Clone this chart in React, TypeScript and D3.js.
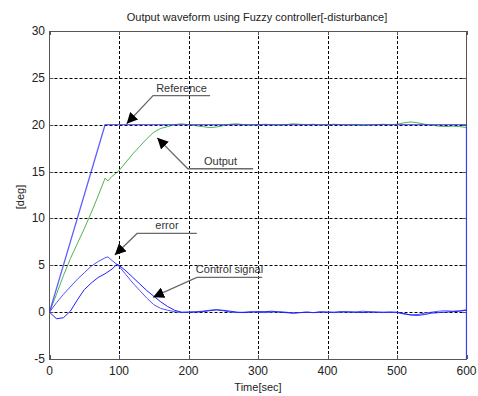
import { useEffect, useRef } from "react"
import * as d3 from "d3"

// time axis samples (sec)
const timeRamp = [0, 10, 20, 30, 40, 50, 60, 70, 80, 84, 90, 97, 100, 110, 120, 130, 140, 150, 160, 170, 180, 190]
const timeTail = [200, 210, 220, 230, 240, 250, 260, 270, 280, 290, 300, 310, 320, 330, 340, 350, 360, 370, 380, 390, 400, 410, 420, 430, 440, 450, 460, 470, 480, 490, 500, 510, 520, 530, 540, 550, 560, 570, 580, 590, 600]

const outputRamp = [0, 1.9, 3.9, 5.7, 7.3, 8.9, 10.6, 12.4, 14.3, 14.0, 14.5, 14.9, 15.1, 16.0, 16.9, 17.7, 18.5, 19.2, 19.6, 19.8, 20.0, 20.1]
const outputTail = [20.0, 19.9, 19.8, 19.7, 19.75, 19.9, 20.05, 20.1, 20.0, 19.95, 20.0, 20.05, 20.0, 19.95, 20.0, 20.1, 20.05, 20.0, 20.05, 19.95, 20.0, 20.05, 20.0, 19.95, 20.0, 19.9, 19.95, 20.0, 20.05, 20.0, 20.05, 20.2, 20.3, 20.2, 20.05, 19.95, 19.85, 19.8, 19.85, 19.8, 19.7]

const errorRamp = [0, 1.0, 1.9, 2.7, 3.5, 4.2, 4.9, 5.4, 5.8, 5.9, 5.5, 5.1, 4.9, 4.0, 3.1, 2.3, 1.5, 0.8, 0.4, 0.2, 0.05, -0.05]
const errorTail = [0.0, 0.05, 0.1, 0.2, 0.25, 0.15, 0.0, -0.05, 0.0, 0.05, 0.0, -0.05, 0.0, 0.05, 0.0, -0.1, -0.05, 0.0, -0.05, 0.05, 0.0, -0.05, 0.0, 0.05, 0.0, 0.1, 0.05, 0.0, -0.05, 0.0, -0.05, -0.2, -0.3, -0.25, -0.1, 0.0, 0.1, 0.15, 0.1, 0.15, 0.25]

const controlRamp = [0, -0.7, -0.6, 0.1, 1.3, 2.4, 3.1, 3.7, 4.1, 4.3, 4.6, 5.1, 5.0, 4.4, 3.7, 3.0, 2.3, 1.7, 1.1, 0.6, 0.2, 0.0]
const controlTail = [0.0, 0.0, 0.05, 0.15, 0.25, 0.2, 0.1, 0.0, -0.05, 0.0, 0.05, 0.05, 0.1, 0.0, -0.05, -0.1, -0.05, 0.0, -0.05, 0.0, 0.0, 0.0, 0.05, 0.0, 0.0, -0.05, 0.0, 0.0, 0.0, 0.0, 0.0, -0.15, -0.3, -0.35, -0.25, -0.1, -0.05, 0.0, 0.05, 0.1, 0.2]

const referenceTime = [0, 80, 600, 600]
const referenceValue = [0, 20, 20, -5]

const xTicks = [0, 100, 200, 300, 400, 500, 600]
const yTicks = [-5, 0, 5, 10, 15, 20, 25, 30]

// annotations: [label, tipX, tipY, elbowX, elbowY, endX]
const notes: [string, number, number, number, number, number][] = [
  ["Reference", 111, 20.1, 149, 23.1, 231],
  ["Output", 155, 18.6, 199, 15.3, 293],
  ["error", 94, 6.1, 126, 8.4, 212],
  ["Control signal", 149, 1.6, 212, 3.7, 306],
]

export default function App() {
  const svgRef = useRef<SVGSVGElement | null>(null)

  useEffect(() => {
    if (!svgRef.current) return
    const svg = d3.select(svgRef.current)
    svg.selectAll("*").remove()

    const left = 49.5, right = 466.5, top = 31, bottom = 359
    const width = right - left
    const height = bottom - top
    const font = "'Liberation Sans', Arial, sans-serif"

    const x = d3.scaleLinear().domain([0, 600]).range([left, right])
    const y = d3.scaleLinear().domain([-5, 30]).range([bottom, top])

    svg.append("rect").attr("width", 478).attr("height", 396).attr("fill", "#fff")

    const defs = svg.append("defs")
    defs
      .append("clipPath")
      .attr("id", "plotclip")
      .append("rect")
      .attr("x", left)
      .attr("y", top)
      .attr("width", width + 1)
      .attr("height", height)

    defs
      .append("marker")
      .attr("id", "arrowhead")
      .attr("viewBox", "0 0 10 10")
      .attr("refX", 10)
      .attr("refY", 5)
      .attr("markerWidth", 11)
      .attr("markerHeight", 11)
      .attr("markerUnits", "userSpaceOnUse")
      .attr("orient", "auto")
      .append("path")
      .attr("d", "M0,0 L10,5 L0,10 Z")
      .attr("fill", "#000")

    // grid
    const grid = svg.append("g").attr("stroke", "#000").attr("stroke-width", 1).attr("stroke-dasharray", "3,2")
    xTicks.slice(1, -1).forEach((t) => {
      grid.append("line").attr("x1", Math.round(x(t)) + 0.5).attr("x2", Math.round(x(t)) + 0.5).attr("y1", top).attr("y2", bottom)
    })
    yTicks.slice(1, -1).forEach((t) => {
      grid.append("line").attr("x1", left).attr("x2", right).attr("y1", Math.round(y(t)) + 0.5).attr("y2", Math.round(y(t)) + 0.5)
    })

    // frame
    svg
      .append("rect")
      .attr("x", left)
      .attr("y", top + 0.5)
      .attr("width", width)
      .attr("height", height)
      .attr("fill", "none")
      .attr("stroke", "#555")

    // ticks inside
    const ticks = svg.append("g").attr("stroke", "#555")
    xTicks.forEach((t) => {
      const px = Math.round(x(t)) + 0.5
      ticks.append("line").attr("x1", px).attr("x2", px).attr("y1", bottom).attr("y2", bottom - 4)
      ticks.append("line").attr("x1", px).attr("x2", px).attr("y1", top).attr("y2", top + 4)
    })
    yTicks.forEach((t) => {
      const py = Math.round(y(t)) + 0.5
      ticks.append("line").attr("x1", left).attr("x2", left + 4).attr("y1", py).attr("y2", py)
      ticks.append("line").attr("x1", right).attr("x2", right - 4).attr("y1", py).attr("y2", py)
    })

    // tick labels
    svg
      .append("g")
      .selectAll("text")
      .data(xTicks)
      .join("text")
      .attr("x", (d) => x(d))
      .attr("y", 375)
      .attr("text-anchor", "middle")
      .attr("font-family", font)
      .attr("font-size", 12)
      .attr("fill", "#222")
      .text((d) => d)

    svg
      .append("g")
      .selectAll("text")
      .data(yTicks)
      .join("text")
      .attr("x", 45)
      .attr("y", (d) => y(d) + 4)
      .attr("text-anchor", "end")
      .attr("font-family", font)
      .attr("font-size", 12)
      .attr("fill", "#222")
      .text((d) => d)

    // title and axis labels
    svg
      .append("text")
      .attr("x", 257)
      .attr("y", 21)
      .attr("text-anchor", "middle")
      .attr("font-family", font)
      .attr("font-size", 11)
      .attr("fill", "#222")
      .text("Output waveform using Fuzzy controller[-disturbance]")

    svg
      .append("text")
      .attr("x", 258)
      .attr("y", 391)
      .attr("text-anchor", "middle")
      .attr("font-family", font)
      .attr("font-size", 11)
      .attr("fill", "#222")
      .text("Time[sec]")

    svg
      .append("text")
      .attr("transform", `translate(24,197) rotate(-90)`)
      .attr("text-anchor", "middle")
      .attr("font-family", font)
      .attr("font-size", 11)
      .attr("fill", "#222")
      .text("[deg]")

    // series
    const plot = svg.append("g").attr("clip-path", "url(#plotclip)").attr("fill", "none")
    const line = d3
      .line<[number, number]>()
      .x((d) => x(d[0]))
      .y((d) => y(d[1]))

    const times = timeRamp.concat(timeTail)
    const zip = (vals: number[]) => times.map((t, i) => [t, vals[i]] as [number, number])

    plot
      .append("path")
      .attr("d", line(zip(outputRamp.concat(outputTail))))
      .attr("stroke", "#22a022")
      .attr("stroke-width", 1)
      .attr("stroke-opacity", 0.8)

    plot
      .append("path")
      .attr("d", line(referenceTime.map((t, i) => [t, referenceValue[i]] as [number, number])))
      .attr("stroke", "#3838ff")
      .attr("stroke-width", 1.3)
      .attr("stroke-opacity", 0.8)

    plot
      .append("path")
      .attr("d", line(zip(errorRamp.concat(errorTail))))
      .attr("stroke", "#5050ff")
      .attr("stroke-width", 1)

    plot
      .append("path")
      .attr("d", line(zip(controlRamp.concat(controlTail))))
      .attr("stroke", "#2020ff")
      .attr("stroke-width", 1)

    // annotations
    const ann = svg.append("g")
    notes.forEach(([label, tx, ty, ex, ey, endX]) => {
      ann
        .append("path")
        .attr("d", `M${x(endX)},${y(ey)} L${x(ex)},${y(ey)} L${x(tx)},${y(ty)}`)
        .attr("fill", "none")
        .attr("stroke", "#6a6a6a")
        .attr("stroke-width", 1.3)
        .attr("marker-end", "url(#arrowhead)")
      ann
        .append("text")
        .attr("x", (x(ex) + x(endX)) / 2)
        .attr("y", y(ey) - 4)
        .attr("text-anchor", "middle")
        .attr("font-family", font)
        .attr("font-size", 11)
        .attr("fill", "#333")
        .text(label)
    })
  }, [])

  return (
    <svg
      ref={svgRef}
      width={478}
      height={396}
      style={{ position: "absolute", left: 0, top: 0, display: "block" }}
    ></svg>
  )
}
